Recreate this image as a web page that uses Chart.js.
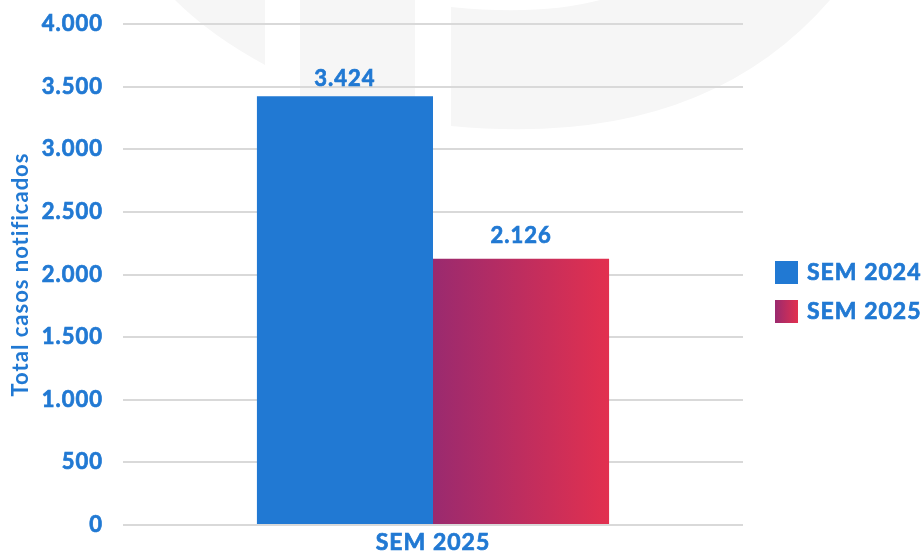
<!DOCTYPE html>
<html lang="pt">
<head>
<meta charset="utf-8" />
<title>SEM 2024 vs SEM 2025</title>
<style>
html,body{margin:0;padding:0;background:#fff;}
#wrap{position:relative;width:924px;height:552px;}
</style>
</head>
<body>
<div id="wrap"><canvas id="chart" width="924" height="552"></canvas></div>

<script src="https://cdn.jsdelivr.net/npm/chart.js@4.4.1"></script>
<script>
/* ---- data ---- */
const categories = ['SEM 2025'];
const seriesNames = ['SEM 2024', 'SEM 2025'];
const sem2024 = [3424];
const sem2025 = [2126];

const BLUE = '#2179d3';
const FONT = 'Lato, "Open Sans", sans-serif';
const W = 'bold';
const STROKE = 0.7;
const labelGap = [10, 16];   // px between bar top and value label baseline

function redGrad(ctx, x0, x1){
    const g = ctx.createLinearGradient(x0, 0, x1, 0);
    g.addColorStop(0, '#9a2a6f');
    g.addColorStop(1, '#e2304f');
    return g;
}

function heavyText(ctx, s, x, y){
    ctx.fillText(s, x, y);
    ctx.strokeText(s, x, y);
}

/* faint logo watermark behind everything, letter spacing for all text */
const watermark = {
    id: 'watermark',
    beforeLayout(chart){
        chart.ctx.letterSpacing = '1px';
    },
    beforeDraw(chart){
        const {ctx} = chart;
        ctx.letterSpacing = '1px';
        ctx.save();
        ctx.fillStyle = '#f6f6f6';
        ctx.beginPath();
        ctx.moveTo(175, 0); ctx.lineTo(265, 0); ctx.lineTo(265, 65);
        ctx.quadraticCurveTo(210, 35, 175, 0);
        ctx.fill();
        ctx.fillRect(300, 0, 115, 128);
        ctx.beginPath();
        ctx.moveTo(451, 7);
        ctx.quadraticCurveTo(540, 16, 600, 0);
        ctx.lineTo(830, 0);
        ctx.quadraticCurveTo(700, 150, 451, 126);
        ctx.closePath();
        ctx.fill();
        ctx.restore();
    },
    /* gradient fill for the 2025 bar, left to right */
    beforeDatasetsDraw(chart){
        chart.getDatasetMeta(1).data.forEach(el => {
            el.options.backgroundColor = redGrad(chart.ctx, el.x - el.width / 2, el.x + el.width / 2);
        });
    }
};

/* value labels above bars + right legend */
const extras = {
    id: 'extras',
    afterDatasetsDraw(chart){
        const {ctx} = chart;
        ctx.save();
        ctx.font = W + ' 22px ' + FONT;
        ctx.fillStyle = BLUE;
        ctx.strokeStyle = BLUE;
        ctx.lineWidth = STROKE;
        ctx.textAlign = 'center';
        ctx.textBaseline = 'alphabetic';
        chart.data.datasets.forEach((ds, di) => {
            chart.getDatasetMeta(di).data.forEach((bar, i) => {
                heavyText(ctx, ds.data[i].toLocaleString('pt-BR'), bar.x, bar.y - labelGap[di]);
            });
        });
        ctx.restore();
    },
    afterDraw(chart){
        const {ctx, chartArea} = chart;
        const x = chartArea.right + 32;
        const ys = [261, 300];
        ctx.save();
        ctx.font = W + ' 23px ' + FONT;
        ctx.textBaseline = 'middle';
        ctx.textAlign = 'left';
        ctx.strokeStyle = BLUE;
        ctx.lineWidth = STROKE;
        seriesNames.forEach((name, i) => {
            ctx.fillStyle = i === 0 ? BLUE : redGrad(ctx, x, x + 23);
            ctx.fillRect(x, ys[i], 23, 23);
            ctx.fillStyle = BLUE;
            heavyText(ctx, name, x + 32, ys[i] + 12);
        });
        ctx.restore();
    }
};

new Chart(document.getElementById('chart'), {
    type: 'bar',
    data: {
        labels: categories,
        datasets: [
            {label: seriesNames[0], data: sem2024, backgroundColor: BLUE},
            {label: seriesNames[1], data: sem2025, backgroundColor: '#c0305a'}
        ]
    },
    options: {
        responsive: false,
        animation: false,
        layout: {padding: {top: 24, right: 181, left: 0, bottom: 0}},
        datasets: {bar: {categoryPercentage: 0.568, barPercentage: 1}},
        plugins: {legend: {display: false}, tooltip: {enabled: false}},
        scales: {
            x: {
                grid: {display: false, drawTicks: false},
                border: {display: false},
                ticks: {
                    color: BLUE, font: {family: FONT, size: 23, weight: W}, padding: 4,
                    textStrokeColor: BLUE, textStrokeWidth: STROKE
                },
                afterFit: s => { s.height = 27; }
            },
            y: {
                min: 0, max: 4000,
                ticks: {
                    stepSize: 500,
                    color: BLUE,
                    padding: 20,
                    font: {family: FONT, size: 22, weight: W},
                    textStrokeColor: BLUE, textStrokeWidth: STROKE,
                    callback: v => v.toLocaleString('pt-BR')
                },
                grid: {color: '#d9d9d9', lineWidth: 2, drawTicks: false},
                border: {display: false},
                title: {
                    display: true,
                    text: 'Total casos notificados',
                    color: BLUE,
                    font: {family: FONT, size: 22, weight: W},
                    padding: {top: 8, bottom: 0}
                },
                afterFit: s => { s.width = 123; s.paddingTop = 0; s.paddingBottom = 0; }
            }
        }
    },
    plugins: [watermark, extras]
});
</script>
</body>
</html>
